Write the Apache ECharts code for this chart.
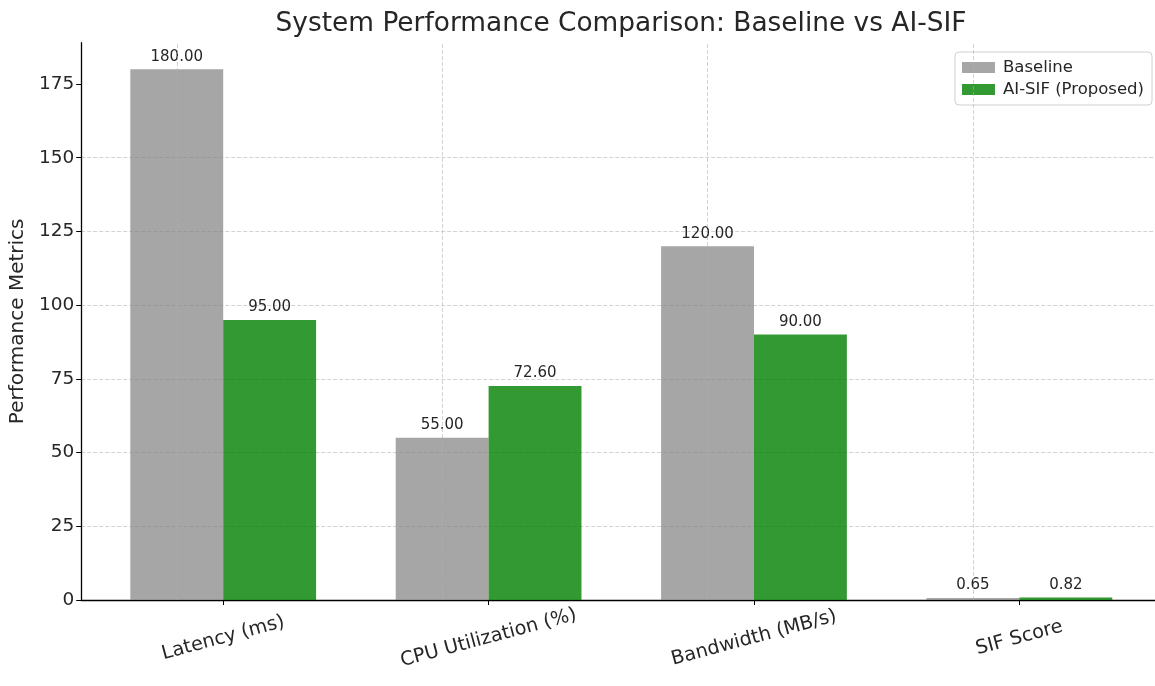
<!DOCTYPE html>
<html>
<head>
<meta charset="utf-8">
<script src="https://cdn.jsdelivr.net/npm/echarts@6/dist/echarts.min.js"></script>
<style>
html,body{margin:0;padding:0;background:#fff;}
#chart{width:1155px;height:686px;}
</style>
</head>
<body>
<div id="chart"></div>
<script>
const categories = ['Latency (ms)', 'CPU Utilization (%)', 'Bandwidth (MB/s)', 'SIF Score'];
const baselineValues = [180, 55, 120, 0.65];
const proposedValues = [95, 72.6, 90, 0.82];
const seriesNames = ['Baseline', 'AI-SIF (Proposed)'];
const yTicks = [0, 25, 50, 75, 100, 125, 150, 175];

const catIndex = categories.map((c, i) => i);
const FONT = 'DejaVu Sans';
const chart = echarts.init(document.getElementById('chart'), null, {renderer: 'canvas'});

const gridLine = {color: '#b0b0b0', type: [4, 2], width: 0.8, opacity: 0.7};
const valueLabel = {
  show: true, position: 'top', distance: 5,
  fontFamily: FONT, fontSize: 15, color: '#262626',
  formatter: p => p.value[1].toFixed(2)
};

chart.setOption({
  animation: false,
  backgroundColor: '#fff',
  title: {
    text: 'System Performance Comparison: Baseline vs AI-SIF',
    left: 616, top: 6, textAlign: 'center',
    textStyle: {fontFamily: FONT, fontSize: 26.4, fontWeight: 'normal', color: '#262626'}
  },
  legend: {
    orient: 'vertical', right: 3, top: 52,
    padding: [7, 8, 7, 7],
    icon: 'rect',
    itemWidth: 33, itemHeight: 11, itemGap: 5,
    backgroundColor: '#fff', borderColor: '#d0d0d0', borderWidth: 1, borderRadius: 4,
    textStyle: {fontFamily: FONT, fontSize: 16.5, color: '#262626', padding: [0, 0, 0, 3]},
    data: seriesNames
  },
  grid: {left: 80, right: 0, top: 42.7, bottom: 86, containLabel: false},
  xAxis: {
    type: 'value', min: -0.535, max: 3.511,
    axisLine: {show: true, onZero: false, lineStyle: {color: '#000', width: 1.3}},
    axisTick: {show: true, customValues: catIndex, length: 5, lineStyle: {color: '#000'}},
    axisLabel: {
      customValues: catIndex,
      formatter: v => categories[Math.round(v)] || '',
      rotate: 15, align: 'center', verticalAlign: 'middle', margin: 38,
      fontFamily: FONT, fontSize: 19.3, color: '#262626'
    },
    splitLine: {show: false}
  },
  yAxis: {
    type: 'value', min: 0, max: 189, interval: 25,
    name: 'Performance Metrics', nameLocation: 'middle', nameGap: 53,
    nameTextStyle: {fontFamily: FONT, fontSize: 20, color: '#262626'},
    axisLine: {show: true, onZero: false, lineStyle: {color: '#000', width: 1.3}},
    axisTick: {show: true, customValues: yTicks, length: 5, lineStyle: {color: '#000'}},
    axisLabel: {
      customValues: yTicks,
      fontFamily: FONT, fontSize: 18.5, color: '#262626', margin: 7,
      formatter: v => String(v)
    },
    splitLine: {show: true, showMaxLine: false, showMinLine: false, lineStyle: gridLine}
  },
  series: [
    {
      name: seriesNames[0], type: 'bar',
      data: baselineValues.map((v, i) => [catIndex[i], v]),
      barWidth: '35%', barGap: '0%',
      itemStyle: {color: 'rgba(128,128,128,0.7)'},
      label: valueLabel,
      markLine: {
        silent: true, symbol: 'none', label: {show: false},
        lineStyle: gridLine,
        data: catIndex.map(i => ({xAxis: i}))
      }
    },
    {
      name: seriesNames[1], type: 'bar',
      data: proposedValues.map((v, i) => [catIndex[i], v]),
      barWidth: '35%', barGap: '0%',
      itemStyle: {color: 'rgba(0,128,0,0.8)'},
      label: valueLabel
    }
  ]
});
</script>
</body>
</html>
